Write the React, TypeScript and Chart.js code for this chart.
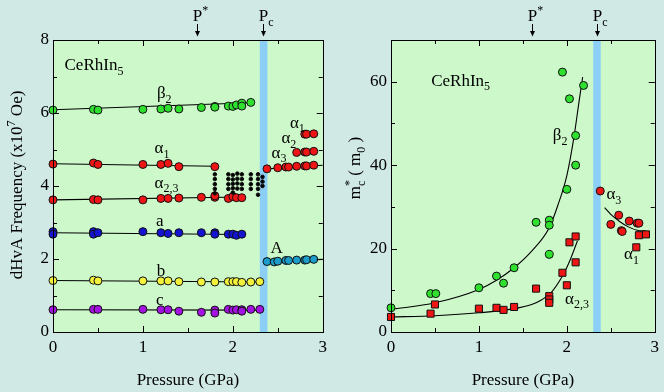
import React, { useEffect, useRef } from 'react';
import { Chart, registerables } from 'chart.js';
Chart.register(...registerables);

const FONT = '"Liberation Serif", "Times New Roman", serif';
const PAGE_BG = '#d0e9e5';
const PLOT_BG = '#cdf8ca';
const BAND = '#8ccff6';
const GREEN = '#2fe02f';
const RED = '#ee1515';
const BLUE = '#1414d0';
const YELLOW = '#f2f23c';
const PURPLE = '#a414e0';
const TEAL = '#1c9cc8';

// ---------- Left panel: dHvA frequency (x10^7 Oe) vs pressure (GPa) ----------
const beta2P = [0, 0.45, 0.5, 1.0, 1.2, 1.28, 1.4, 1.65, 1.8, 1.8, 1.95, 2.0, 2.04, 2.1, 2.1, 2.2];
const beta2F = [6.08, 6.1, 6.08, 6.1, 6.11, 6.13, 6.11, 6.15, 6.18, 6.16, 6.19, 6.18, 6.22, 6.27, 6.19, 6.29];
const alpha1P = [0, 0.45, 0.5, 1.0, 1.2, 1.28, 1.4, 1.8];
const alpha1F = [4.6, 4.63, 4.59, 4.59, 4.59, 4.62, 4.53, 4.53];
const alpha23P = [0, 0.45, 0.5, 1.0, 1.2, 1.28, 1.4, 1.65, 1.8, 1.8, 1.95, 2.0, 2.04, 2.1];
const alpha23F = [3.62, 3.63, 3.62, 3.62, 3.66, 3.66, 3.67, 3.69, 3.69, 3.73, 3.66, 3.71, 3.68, 3.68];
const aP = [0, 0, 0.45, 0.45, 0.5, 1.0, 1.2, 1.28, 1.4, 1.65, 1.8, 1.8, 1.95, 2.0, 2.04, 2.1];
const aF = [2.75, 2.68, 2.75, 2.68, 2.72, 2.75, 2.72, 2.7, 2.72, 2.72, 2.72, 2.68, 2.68, 2.68, 2.65, 2.68];
const bigAP = [2.38, 2.46, 2.5, 2.59, 2.62, 2.71, 2.8, 2.82, 2.9];
const bigAF = [1.93, 1.92, 1.94, 1.96, 1.96, 1.97, 1.97, 1.98, 1.99];
const bP = [0, 0.45, 0.5, 1.0, 1.2, 1.28, 1.4, 1.65, 1.8, 1.95, 2.0, 2.04, 2.1, 2.2, 2.3];
const bF = [1.41, 1.42, 1.4, 1.4, 1.4, 1.4, 1.38, 1.37, 1.37, 1.38, 1.38, 1.38, 1.36, 1.37, 1.38];
const cP = [0, 0.45, 0.5, 1.0, 1.2, 1.28, 1.4, 1.65, 1.8, 1.8, 1.95, 2.0, 2.04, 2.1, 2.1, 2.2, 2.3];
const cF = [0.61, 0.62, 0.62, 0.62, 0.61, 0.61, 0.57, 0.54, 0.6, 0.52, 0.62, 0.6, 0.61, 0.61, 0.57, 0.62, 0.62];
const hiA3P = [2.38, 2.5, 2.59, 2.62, 2.71, 2.8, 2.82, 2.9];
const hiA3F = [4.47, 4.5, 4.52, 4.52, 4.54, 4.55, 4.55, 4.57];
const hiA2P = [2.71, 2.8, 2.82, 2.9];
const hiA2F = [4.92, 4.93, 4.93, 4.95];
const hiA1P = [2.8, 2.82, 2.9];
const hiA1F = [5.42, 5.42, 5.43];
const dotsP = [1.8, 1.8, 1.8, 1.8, 1.8, 1.95, 1.95, 1.95, 1.95, 2.0, 2.0, 2.0, 2.0, 2.0, 2.05, 2.05, 2.05, 2.05, 2.1, 2.1, 2.1, 2.1, 2.2, 2.2, 2.2, 2.2, 2.28, 2.28, 2.28, 2.28, 2.28, 2.33, 2.33, 2.33];
const dotsF = [4.32, 4.19, 4.05, 3.92, 3.8, 4.32, 4.19, 4.05, 3.92, 4.3, 4.18, 4.06, 3.94, 3.82, 4.34, 4.2, 4.07, 3.93, 4.32, 4.19, 4.05, 3.92, 4.32, 4.19, 4.05, 3.92, 4.32, 4.19, 4.05, 3.92, 3.76, 4.25, 4.12, 4.0];
// straight guide lines (end points)
const fitBeta2 = [[0, 6.09], [2.2, 6.28]];
const fitAlpha1 = [[0, 4.61], [1.8, 4.54]];
const fitAlpha23 = [[0, 3.62], [2.1, 3.7]];
const fitA = [[0, 2.72], [2.1, 2.67]];
const fitBigA = [[2.38, 1.93], [3.0, 1.99]];
const fitB = [[0, 1.41], [2.3, 1.37]];
const fitC = [[0, 0.61], [2.3, 0.6]];
const fitHiA3 = [[2.38, 4.47], [3.0, 4.57]];

// ---------- Right panel: cyclotron mass m*c (m0) vs pressure ----------
const mBeta2P = [0, 0.45, 0.51, 1.0, 1.2, 1.28, 1.4, 1.65, 1.8, 1.8, 1.8, 2.0, 2.1, 2.1, 2.03, 1.95, 2.19];
const mBeta2M = [5.8, 9.2, 9.2, 10.6, 13.4, 11.7, 15.4, 26.3, 26.8, 25.6, 18.6, 34.2, 40.0, 47.1, 55.9, 62.3, 59.1];
const mA23P = [0, 0.45, 0.5, 1.0, 1.2, 1.28, 1.4, 1.65, 1.8, 1.8, 1.8, 1.95, 2.0, 2.03, 2.1, 2.1];
const mA23M = [3.6, 4.4, 6.6, 5.6, 5.8, 5.3, 6.0, 10.4, 8.6, 7.8, 7.0, 14.2, 11.2, 21.5, 22.9, 16.7];
const mA3P = [2.38, 2.5, 2.59, 2.62, 2.63, 2.71, 2.8, 2.82];
const mA3M = [33.8, 25.8, 28.0, 24.3, 24.1, 26.6, 26.1, 26.1];
const mA1P = [2.79, 2.82, 2.9];
const mA1M = [20.3, 23.2, 23.4];
const curveBeta2 = [[0, 5.4], [0.5, 7.0], [1.0, 10.2], [1.2, 12.4], [1.4, 15.4], [1.6, 19.4], [1.8, 25.0], [1.9, 30.5], [2.0, 37.5], [2.08, 46.6], [2.14, 55.4], [2.18, 61.1]];
const curveA23 = [[0, 3.6], [0.5, 3.9], [1.0, 4.6], [1.4, 5.6], [1.6, 6.6], [1.72, 7.8], [1.82, 9.4], [1.95, 13.4], [2.04, 17.4], [2.12, 21.8]];
const curveAlpha = [[2.43, 29.8], [2.5, 28.2], [2.6, 26.5], [2.7, 25.2], [2.8, 24.4], [2.9, 24.2]];

const P_STAR = 1.6;
const P_C = 2.34;
const BAND_RANGE = [2.3, 2.385];

type Seg = { t: string; k?: 'sub' | 'sup' | 'stack'; t2?: string };
type Lab = { x: number; y: number; segs: Seg[] };

const pts = (xs: number[], ys: number[]) => xs.map((x, i) => ({ x, y: ys[i] }));
const pairs = (a: number[][]) => a.map(([x, y]) => ({ x, y }));

function fontFor(size: number, k?: string) {
  return `${k ? Math.round(size * 0.7) : size}px ${FONT}`;
}
function segWidth(ctx: CanvasRenderingContext2D, s: Seg, size: number) {
  if (s.k === 'stack') {
    ctx.font = fontFor(size, 'sub');
    return Math.max(ctx.measureText(s.t).width, ctx.measureText(s.t2 || '').width);
  }
  ctx.font = fontFor(size, s.k);
  return ctx.measureText(s.t).width;
}
function totalWidth(ctx: CanvasRenderingContext2D, segs: Seg[], size: number) {
  return segs.reduce((w, s) => w + segWidth(ctx, s, size), 0);
}
function drawSegs(ctx: CanvasRenderingContext2D, segs: Seg[], x: number, y: number, size: number) {
  let cx = x;
  ctx.textAlign = 'left';
  ctx.textBaseline = 'alphabetic';
  for (const s of segs) {
    const w = segWidth(ctx, s, size);
    if (s.k === 'stack') {
      ctx.font = fontFor(size, 'sub');
      ctx.fillText(s.t, cx, y - size * 0.4);
      ctx.fillText(s.t2 || '', cx, y + size * 0.28);
    } else {
      ctx.font = fontFor(size, s.k);
      const dy = s.k === 'sub' ? size * 0.27 : s.k === 'sup' ? -size * 0.4 : 0;
      ctx.fillText(s.t, cx, y + dy);
    }
    cx += w;
  }
}

type PanelCfg = {
  yMax: number;
  yStep: number;
  yWidth: number;
  rightPad: number;
  datasets: any[];
  labels: Lab[];
  yTitle: Seg[];
  yTitleX: number;
  yTitleY: number;
};

function makeDecor(cfg: PanelCfg) {
  return {
    id: 'decor',
    beforeDraw(chart: any) {
      const { ctx, chartArea: a } = chart;
      const xs = chart.scales.x;
      ctx.save();
      ctx.fillStyle = PLOT_BG;
      ctx.fillRect(a.left, a.top, a.right - a.left, a.bottom - a.top);
      const b0 = xs.getPixelForValue(BAND_RANGE[0]);
      const b1 = xs.getPixelForValue(BAND_RANGE[1]);
      ctx.fillStyle = BAND;
      ctx.fillRect(b0, a.top, b1 - b0, a.bottom - a.top);
      ctx.restore();
    },
    afterDraw(chart: any) {
      const { ctx, chartArea: a } = chart;
      const xs = chart.scales.x;
      const ys = chart.scales.y;
      ctx.save();
      ctx.strokeStyle = '#000';
      ctx.lineWidth = 1;
      ctx.strokeRect(Math.round(a.left) + 0.5, Math.round(a.top) + 0.5, Math.round(a.right - a.left), Math.round(a.bottom - a.top));
      // inward ticks
      ctx.beginPath();
      for (let v = 0; v <= 3.0001; v += 0.5) {
        const px = Math.round(xs.getPixelForValue(v)) + 0.5;
        const len = Math.abs(v - Math.round(v)) < 1e-6 ? 6 : 4;
        ctx.moveTo(px, a.bottom); ctx.lineTo(px, a.bottom - len);
        ctx.moveTo(px, a.top); ctx.lineTo(px, a.top + len);
      }
      const half = cfg.yStep / 2;
      for (let v = 0; v <= cfg.yMax + 1e-6; v += half) {
        const py = Math.round(ys.getPixelForValue(v)) + 0.5;
        const major = Math.abs(v / cfg.yStep - Math.round(v / cfg.yStep)) < 1e-6;
        const len = major ? 6 : 4;
        ctx.moveTo(a.left, py); ctx.lineTo(a.left + len, py);
        ctx.moveTo(a.right, py); ctx.lineTo(a.right - len, py);
      }
      ctx.stroke();
      ctx.fillStyle = '#000';
      // P* and Pc markers
      const marks: [number, Seg[]][] = [
        [P_STAR, [{ t: 'P' }, { t: '*', k: 'sup' }]],
        [P_C, [{ t: 'P' }, { t: 'c', k: 'sub' }]],
      ];
      for (const [p, segs] of marks) {
        const px = Math.round(xs.getPixelForValue(p)) + 0.5;
        ctx.font = fontFor(17);
        const pw = ctx.measureText('P').width;
        drawSegs(ctx, segs, px - pw / 2, 21, 17);
        ctx.beginPath();
        ctx.moveTo(px, 24); ctx.lineTo(px, 35);
        ctx.stroke();
        ctx.beginPath();
        ctx.moveTo(px - 2.5, 31); ctx.lineTo(px + 2.5, 31); ctx.lineTo(px, 36.5); ctx.closePath();
        ctx.fill();
      }
      // in-plot labels
      for (const l of cfg.labels) {
        drawSegs(ctx, l.segs, xs.getPixelForValue(l.x), ys.getPixelForValue(l.y), 17);
      }
      // x title
      const xt: Seg[] = [{ t: 'Pressure (GPa)' }];
      const xw = totalWidth(ctx, xt, 17);
      drawSegs(ctx, xt, (a.left + a.right) / 2 - xw / 2, 385, 17);
      // y title (rotated)
      const yw = totalWidth(ctx, cfg.yTitle, 17);
      ctx.translate(cfg.yTitleX, cfg.yTitleY);
      ctx.rotate(-Math.PI / 2);
      drawSegs(ctx, cfg.yTitle, -yw / 2, 0, 17);
      ctx.restore();
    },
  };
}

function buildConfig(cfg: PanelCfg): any {
  return {
    type: 'scatter',
    data: { datasets: cfg.datasets },
    plugins: [makeDecor(cfg)],
    options: {
      animation: false,
      responsive: false,
      devicePixelRatio: 1,
      events: [],
      layout: { padding: { top: 40, right: cfg.rightPad, left: 0, bottom: 0 } },
      plugins: { legend: { display: false }, tooltip: { enabled: false } },
      scales: {
        x: {
          type: 'linear', min: 0, max: 3,
          grid: { display: false, drawTicks: false },
          border: { display: false },
          ticks: { stepSize: 1, padding: 5, color: '#000', font: { family: FONT, size: 17 } },
          afterFit: (s: any) => { s.height = 60; },
        },
        y: {
          type: 'linear', min: 0, max: cfg.yMax,
          grid: { display: false, drawTicks: false },
          border: { display: false },
          ticks: { stepSize: cfg.yStep, includeBounds: false, padding: 4, color: '#000', font: { family: FONT, size: 17 } },
          afterFit: (s: any) => { s.width = cfg.yWidth; },
        },
      },
    },
  };
}

const lineDs = (data: any[], smooth = false) => ({
  data, showLine: true, borderColor: '#000', borderWidth: 1.1, pointRadius: 0,
  tension: smooth ? 0.4 : 0, cubicInterpolationMode: smooth ? 'monotone' : 'default', order: 10, clip: false,
});
const ptDs = (data: any[], color: string, style = 'circle', r = 4) => ({
  data, backgroundColor: color, borderColor: '#111', borderWidth: 1, pointRadius: r,
  pointStyle: style, order: 1, clip: false,
});

function leftConfig() {
  return buildConfig({
    yMax: 8, yStep: 2, yWidth: 53, rightPad: 4,
    yTitle: [{ t: 'dHvA Frequency (x10' }, { t: '7', k: 'sup' }, { t: ' Oe)' }],
    yTitleX: 22, yTitleY: 185,
    datasets: [
      lineDs(pairs(fitBeta2)), lineDs(pairs(fitAlpha1)), lineDs(pairs(fitAlpha23)), lineDs(pairs(fitA)),
      lineDs(pairs(fitBigA)), lineDs(pairs(fitB)), lineDs(pairs(fitC)), lineDs(pairs(fitHiA3)),
      ptDs(pts(dotsP, dotsF), '#000', 'circle', 1.8),
      ptDs(pts(beta2P, beta2F), GREEN),
      ptDs(pts(alpha1P, alpha1F), RED),
      ptDs(pts(alpha23P, alpha23F), RED),
      ptDs(pts(aP, aF), BLUE),
      ptDs(pts(bigAP, bigAF), TEAL),
      ptDs(pts(bP, bF), YELLOW),
      ptDs(pts(cP, cF), PURPLE),
      ptDs(pts(hiA3P, hiA3F), RED),
      ptDs(pts(hiA2P, hiA2F), RED),
      ptDs(pts(hiA1P, hiA1F), RED),
    ],
    labels: [
      { x: 0.128, y: 7.18, segs: [{ t: 'CeRhIn' }, { t: '5', k: 'sub' }] },
      { x: 1.156, y: 6.4, segs: [{ t: 'β' }, { t: '2', k: 'sub' }] },
      { x: 1.13, y: 4.9, segs: [{ t: 'α' }, { t: '1', k: 'sub' }] },
      { x: 1.13, y: 3.95, segs: [{ t: 'α' }, { t: '2,3', k: 'sub' }] },
      { x: 1.145, y: 2.91, segs: [{ t: 'a' }] },
      { x: 1.155, y: 1.54, segs: [{ t: 'b' }] },
      { x: 1.145, y: 0.73, segs: [{ t: 'c' }] },
      { x: 2.42, y: 2.16, segs: [{ t: 'A' }] },
      { x: 2.635, y: 5.6, segs: [{ t: 'α' }, { t: '1', k: 'sub' }] },
      { x: 2.54, y: 5.18, segs: [{ t: 'α' }, { t: '2', k: 'sub' }] },
      { x: 2.43, y: 4.77, segs: [{ t: 'α' }, { t: '3', k: 'sub' }] },
    ],
  });
}

function rightConfig() {
  return buildConfig({
    yMax: 70, yStep: 20, yWidth: 59, rightPad: 6,
    yTitle: [{ t: 'm' }, { t: '*', k: 'stack', t2: 'c' }, { t: ' ( m' }, { t: '0', k: 'sub' }, { t: ' )' }],
    yTitleX: 28, yTitleY: 168,
    datasets: [
      lineDs(pairs(curveBeta2), true), lineDs(pairs(curveA23), true), lineDs(pairs(curveAlpha), true),
      ptDs(pts(mBeta2P, mBeta2M), GREEN),
      ptDs(pts(mA23P, mA23M), RED, 'rect', 5),
      ptDs(pts(mA3P, mA3M), RED),
      ptDs(pts(mA1P, mA1M), RED, 'rect', 5),
    ],
    labels: [
      { x: 0.457, y: 59, segs: [{ t: 'CeRhIn' }, { t: '5', k: 'sub' }] },
      { x: 1.84, y: 46, segs: [{ t: 'β' }, { t: '2', k: 'sub' }] },
      { x: 2.45, y: 31.8, segs: [{ t: 'α' }, { t: '3', k: 'sub' }] },
      { x: 2.65, y: 17.4, segs: [{ t: 'α' }, { t: '1', k: 'sub' }] },
      { x: 1.98, y: 6.8, segs: [{ t: 'α' }, { t: '2,3', k: 'sub' }] },
    ],
  });
}

function Panel({ make, left }: { make: () => any; left: number }) {
  const ref = useRef<HTMLCanvasElement | null>(null);
  useEffect(() => {
    if (!ref.current) return;
    const chart = new Chart(ref.current, make());
    return () => chart.destroy();
  }, [make]);
  return (
    <canvas
      ref={ref}
      width={332}
      height={392}
      style={{ position: 'absolute', left, top: 0, width: 332, height: 392 }}
    />
  );
}

export default function App() {
  return (
    <div style={{ position: 'fixed', left: 0, top: 0, width: 664, height: 392, background: PAGE_BG, overflow: 'hidden' }}>
      <Panel make={leftConfig} left={0} />
      <Panel make={rightConfig} left={332} />
    </div>
  );
}
